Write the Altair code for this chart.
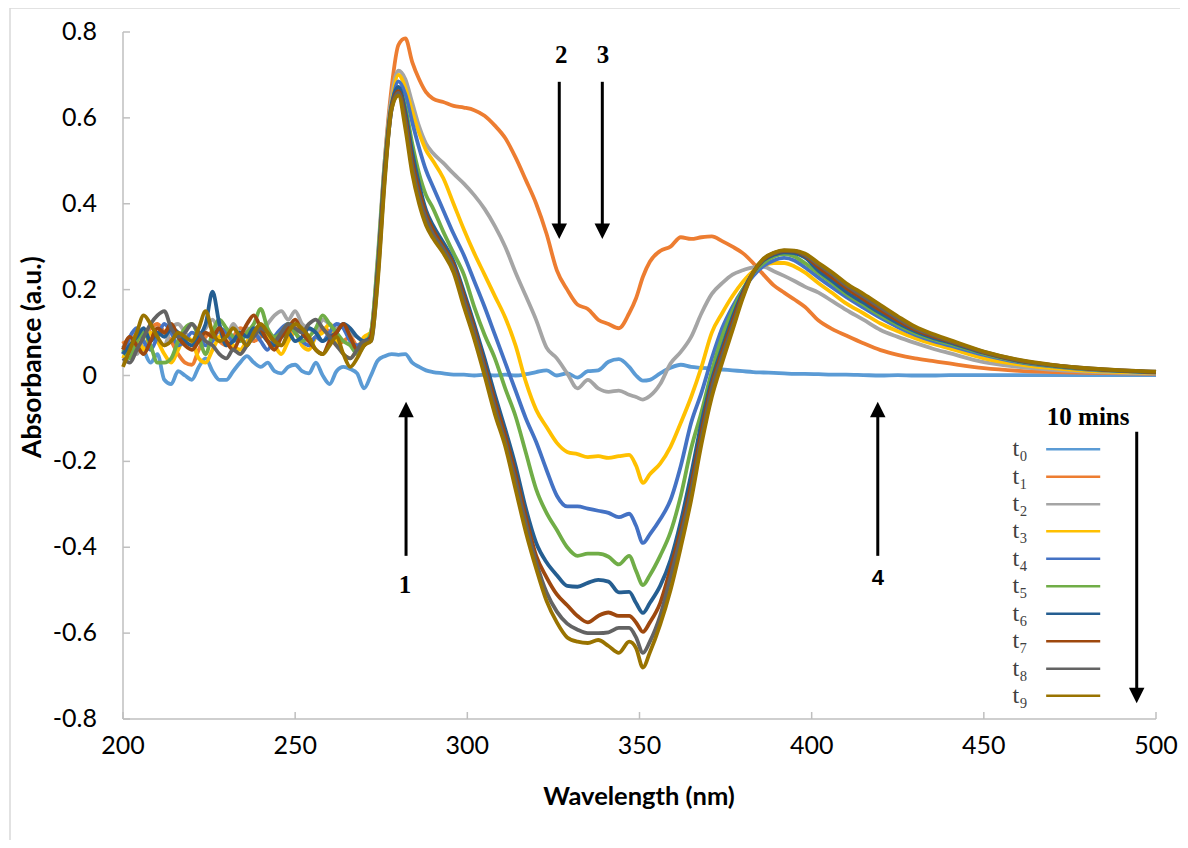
import altair as alt
import pandas as pd

# ---------------- data ----------------
WAVELENGTH = [
    200, 202, 204, 206, 208, 210, 212, 214, 216, 218, 220, 222, 224, 226, 228, 230, 232, 234,
    236, 238, 240, 242, 244, 246, 248, 250, 252, 254, 256, 258, 260, 262, 264, 266, 268, 270,
    272, 274, 276, 278, 280, 282, 284, 286, 288, 290,
    293, 296, 299, 302, 305, 308, 311, 314, 317, 320, 323, 326, 329, 332, 335, 338, 341, 344, 347,
    349, 351, 353,
    356, 359, 362, 365, 368, 371, 374, 377, 380, 383, 386, 389, 392, 395, 398,
    402, 406, 410, 415, 420, 425, 430, 435, 440, 450, 460, 470, 480, 490, 500,
]

T0 = [0.07, 0.05, 0.09, 0.06, 0.03, 0.05, -0.01, -0.02, 0.01, 0.0, -0.01, 0.02, 0.04, 0.01, -0.01, -0.01, 0.01, 0.03,
      0.045, 0.03, 0.02, 0.03, 0.01, 0.005, 0.02, 0.025, 0.01, 0.005, 0.03, 0.0, -0.02, 0.01, 0.02, 0.015, 0.005, -0.03,
      0.0, 0.035, 0.045, 0.05, 0.048, 0.05, 0.03, 0.02, 0.012, 0.008,
      0.005, 0.002, 0.002, 0.0, 0.002, 0.0, 0.002, 0.0, 0.003, 0.008, 0.012, 0.0, 0.005, -0.005, 0.01, 0.012, 0.032, 0.038, 0.02,
      0.0, -0.012, -0.01,
      0.005, 0.018, 0.025, 0.02, 0.018, 0.016, 0.014, 0.012, 0.01, 0.008, 0.007, 0.006, 0.005, 0.004, 0.004,
      0.003, 0.002, 0.002, 0.001, 0.0, 0.001, 0.0, 0.0, 0.001, 0.001, 0.001, 0.001, 0.001, 0.001, 0.001]

T1 = [0.08, 0.06, 0.10, 0.09, 0.11, 0.12, 0.10, 0.08, 0.05, 0.03, 0.025, 0.06, 0.09, 0.10, 0.08, 0.07, 0.09, 0.11,
      0.10, 0.08, 0.09, 0.10, 0.08, 0.07, 0.09, 0.11, 0.10, 0.08, 0.09, 0.11, 0.10, 0.07, 0.08, 0.09, 0.07, 0.08,
      0.10, 0.26, 0.50, 0.67, 0.77, 0.785, 0.73, 0.69, 0.66, 0.645,
      0.637, 0.628, 0.624, 0.618, 0.605, 0.582, 0.553, 0.508, 0.455, 0.40, 0.33, 0.245, 0.20, 0.165, 0.155, 0.13, 0.12, 0.11, 0.145,
      0.18, 0.23, 0.265,
      0.29, 0.30, 0.322, 0.318, 0.322, 0.324, 0.313, 0.30, 0.285, 0.262, 0.235, 0.21, 0.193, 0.177, 0.16,
      0.128, 0.108, 0.093, 0.075, 0.059, 0.048, 0.04, 0.034, 0.028, 0.017, 0.011, 0.008, 0.006, 0.005, 0.004]

T2 = [0.06, 0.08, 0.05, 0.09, 0.10, 0.08, 0.07, 0.11, 0.12, 0.10, 0.08, 0.09, 0.11, 0.13, 0.10, 0.09, 0.12, 0.10,
      0.11, 0.09, 0.10, 0.12, 0.14, 0.15, 0.13, 0.15, 0.12, 0.11, 0.10, 0.13, 0.12, 0.11, 0.12, 0.10, 0.09, 0.08,
      0.10, 0.28, 0.50, 0.65, 0.71, 0.69, 0.635, 0.58, 0.54, 0.518,
      0.495, 0.47, 0.447, 0.42, 0.388, 0.348, 0.30, 0.24, 0.185, 0.129, 0.065, 0.04, 0.005, -0.03, -0.01, -0.03, -0.038, -0.035, -0.045,
      -0.05, -0.056, -0.048,
      -0.02, 0.028, 0.055, 0.09, 0.145, 0.19, 0.215, 0.235, 0.245, 0.252, 0.253, 0.243, 0.232, 0.22, 0.207,
      0.193, 0.173, 0.153, 0.13, 0.106, 0.09, 0.076, 0.063, 0.052, 0.031, 0.02, 0.013, 0.009, 0.006, 0.005]

T3 = [0.04, 0.07, 0.09, 0.06, 0.10, 0.08, 0.05, 0.03, 0.06, 0.09, 0.08, 0.04, 0.03, 0.06, 0.09, 0.10, 0.07, 0.06,
      0.08, 0.09, 0.11, 0.09, 0.07, 0.05, 0.08, 0.10, 0.07, 0.06, 0.09, 0.10, 0.12, 0.08, 0.05, 0.04, 0.06, 0.09,
      0.10, 0.26, 0.48, 0.63, 0.70, 0.67, 0.615, 0.565, 0.525, 0.50,
      0.46, 0.40, 0.34, 0.285, 0.235, 0.185, 0.135, 0.07, -0.015, -0.08, -0.12, -0.157, -0.178, -0.183, -0.19, -0.188, -0.192, -0.188, -0.185,
      -0.21, -0.25, -0.23,
      -0.205, -0.166, -0.11, -0.05, 0.02, 0.10, 0.145, 0.185, 0.218, 0.243, 0.256, 0.262, 0.262, 0.254, 0.24,
      0.215, 0.192, 0.168, 0.145, 0.121, 0.103, 0.087, 0.074, 0.063, 0.04, 0.026, 0.017, 0.011, 0.008, 0.006]

T4 = [0.05, 0.09, 0.11, 0.08, 0.06, 0.09, 0.12, 0.10, 0.07, 0.08, 0.10, 0.09, 0.07, 0.08, 0.11, 0.10, 0.08, 0.09,
      0.07, 0.10, 0.08, 0.06, 0.09, 0.11, 0.12, 0.10, 0.08, 0.07, 0.09, 0.08, 0.10, 0.12, 0.11, 0.08, 0.07, 0.08,
      0.09, 0.25, 0.47, 0.62, 0.685, 0.655, 0.59, 0.53, 0.478, 0.44,
      0.385, 0.33, 0.28, 0.22, 0.16, 0.095, 0.03, -0.035, -0.10, -0.155, -0.22, -0.28, -0.305, -0.305, -0.31, -0.315, -0.32, -0.33, -0.322,
      -0.35, -0.39, -0.37,
      -0.335, -0.29, -0.21, -0.11, -0.04, 0.04, 0.11, 0.16, 0.2, 0.232, 0.255, 0.268, 0.274, 0.268, 0.252,
      0.228, 0.205, 0.183, 0.158, 0.134, 0.113, 0.095, 0.081, 0.07, 0.048, 0.031, 0.021, 0.014, 0.01, 0.007]

T5 = [0.06, 0.04, 0.08, 0.10, 0.07, 0.03, 0.03, 0.04, 0.08, 0.11, 0.12, 0.09, 0.05, 0.10, 0.13, 0.11, 0.09, 0.08,
      0.10, 0.12, 0.155, 0.11, 0.09, 0.10, 0.12, 0.10, 0.08, 0.09, 0.11, 0.14, 0.12, 0.10, 0.08, 0.07, 0.05, 0.07,
      0.10, 0.27, 0.49, 0.63, 0.665, 0.625, 0.54, 0.47, 0.42, 0.39,
      0.335, 0.285, 0.235, 0.16, 0.095, 0.04, -0.03, -0.095, -0.18, -0.265, -0.32, -0.36, -0.40, -0.42, -0.415, -0.415, -0.422, -0.44, -0.42,
      -0.455, -0.488, -0.465,
      -0.42, -0.365, -0.28, -0.17, -0.085, 0.01, 0.09, 0.15, 0.2, 0.238, 0.262, 0.277, 0.283, 0.277, 0.262,
      0.238, 0.215, 0.19, 0.165, 0.14, 0.118, 0.099, 0.085, 0.074, 0.051, 0.033, 0.022, 0.015, 0.011, 0.008]

T6 = [0.05, 0.07, 0.09, 0.11, 0.08, 0.10, 0.09, 0.11, 0.10, 0.08, 0.07, 0.09, 0.12, 0.195, 0.12, 0.07, 0.08, 0.10,
      0.09, 0.11, 0.10, 0.08, 0.07, 0.09, 0.10, 0.08, 0.09, 0.11, 0.10, 0.08, 0.09, 0.10, 0.12, 0.11, 0.09, 0.08,
      0.09, 0.25, 0.48, 0.63, 0.672, 0.615, 0.52, 0.445, 0.385, 0.35,
      0.31, 0.265, 0.195, 0.12, 0.04, -0.045, -0.125, -0.21, -0.31, -0.39, -0.435, -0.465, -0.49, -0.492, -0.483, -0.476, -0.48, -0.505, -0.504,
      -0.53, -0.553, -0.53,
      -0.49, -0.43, -0.34, -0.23, -0.11, -0.01, 0.065, 0.135, 0.195, 0.24, 0.268, 0.281, 0.287, 0.285, 0.275,
      0.244, 0.22, 0.195, 0.17, 0.145, 0.122, 0.103, 0.088, 0.077, 0.053, 0.034, 0.023, 0.016, 0.011, 0.008]

T7 = [0.06, 0.09, 0.07, 0.05, 0.08, 0.11, 0.10, 0.12, 0.09, 0.07, 0.06, 0.08, 0.10, 0.09, 0.11, 0.08, 0.06, 0.09,
      0.12, 0.14, 0.11, 0.08, 0.06, 0.09, 0.11, 0.13, 0.10, 0.08, 0.06, 0.05, 0.08, 0.10, 0.12, 0.09, 0.06, 0.07,
      0.09, 0.24, 0.47, 0.625, 0.662, 0.60, 0.50, 0.43, 0.375, 0.34,
      0.30, 0.258, 0.185, 0.11, 0.025, -0.06, -0.14, -0.23, -0.33, -0.42, -0.47, -0.51, -0.535, -0.56, -0.575, -0.56, -0.552, -0.56, -0.56,
      -0.575, -0.597, -0.575,
      -0.53, -0.45, -0.36, -0.255, -0.13, -0.02, 0.055, 0.125, 0.19, 0.24, 0.27, 0.284, 0.29, 0.289, 0.279,
      0.252, 0.228, 0.204, 0.178, 0.152, 0.128, 0.107, 0.092, 0.08, 0.054, 0.035, 0.024, 0.016, 0.012, 0.008]

T8 = [0.04, 0.03, 0.06, 0.09, 0.12, 0.14, 0.15, 0.11, 0.09, 0.10, 0.12, 0.10, 0.08, 0.07, 0.05, 0.04, 0.06, 0.05,
      0.07, 0.09, 0.11, 0.10, 0.08, 0.10, 0.12, 0.11, 0.10, 0.12, 0.13, 0.11, 0.09, 0.07, 0.05, 0.04, 0.06, 0.08,
      0.08, 0.23, 0.46, 0.62, 0.658, 0.59, 0.485, 0.415, 0.365, 0.33,
      0.295, 0.25, 0.175, 0.10, 0.015, -0.075, -0.155, -0.245, -0.345, -0.435, -0.505, -0.55, -0.578, -0.592, -0.6, -0.6, -0.598, -0.588, -0.588,
      -0.61, -0.646, -0.62,
      -0.56, -0.47, -0.375, -0.27, -0.145, -0.03, 0.045, 0.115, 0.185, 0.24, 0.271, 0.285, 0.291, 0.29, 0.281,
      0.258, 0.235, 0.21, 0.184, 0.158, 0.133, 0.11, 0.095, 0.081, 0.055, 0.036, 0.024, 0.017, 0.012, 0.009]

T9 = [0.02, 0.06, 0.10, 0.14, 0.12, 0.09, 0.07, 0.08, 0.10, 0.09, 0.08, 0.11, 0.15, 0.10, 0.08, 0.09, 0.11, 0.09,
      0.07, 0.10, 0.12, 0.10, 0.08, 0.07, 0.10, 0.12, 0.11, 0.09, 0.06, 0.05, 0.07, 0.09, 0.05, 0.02, 0.04, 0.07,
      0.08, 0.22, 0.45, 0.62, 0.652, 0.575, 0.47, 0.40, 0.35, 0.32,
      0.285, 0.24, 0.16, 0.085, 0.0, -0.09, -0.165, -0.265, -0.365, -0.45, -0.525, -0.575, -0.61, -0.62, -0.623, -0.616, -0.63, -0.646, -0.62,
      -0.635, -0.68, -0.645,
      -0.58, -0.50, -0.40, -0.29, -0.16, -0.05, 0.03, 0.105, 0.18, 0.24, 0.272, 0.286, 0.292, 0.291, 0.284,
      0.262, 0.24, 0.215, 0.19, 0.164, 0.138, 0.114, 0.097, 0.083, 0.056, 0.037, 0.025, 0.017, 0.012, 0.009]

SERIES_NAMES = ["t₀", "t₁", "t₂", "t₃", "t₄", "t₅", "t₆", "t₇", "t₈", "t₉"]
SERIES_VALUES = [T0, T1, T2, T3, T4, T5, T6, T7, T8, T9]
COLORS = ["#5B9BD5", "#ED7D31", "#A5A5A5", "#FFC000", "#4472C4",
          "#70AD47", "#255E91", "#9E480E", "#636363", "#997300"]

X_TICKS = [200, 250, 300, 350, 400, 450, 500]
X_TICK_LABELS = ["200", "250", "300", "350", "400", "450", "500"]
Y_TICKS = [-0.8, -0.6, -0.4, -0.2, 0.0, 0.2, 0.4, 0.6, 0.8]
Y_TICK_LABELS = ["-0.8", "-0.6", "-0.4", "-0.2", "0", "0.2", "0.4", "0.6", "0.8"]
X_TITLE = "Wavelength (nm)"
Y_TITLE = "Absorbance (a.u.)"

# legend block placed inside the plot (positions in chart units)
LEGEND_Y = [-0.172, -0.236, -0.300, -0.363, -0.427, -0.491, -0.555, -0.619, -0.683, -0.746]
LEGEND_LINE_X1 = 468.1
LEGEND_LINE_X2 = 483.8
LEGEND_TEXT_X = 460.5

# annotation arrows: x (nm), shaft start/end and head position (absorbance)
ARROW_X = [282.2, 419.2, 326.7, 339.2, 494.4]
ARROW_Y1 = [-0.420, -0.420, 0.684, 0.684, -0.131]
ARROW_Y2 = [-0.085, -0.085, 0.345, 0.345, -0.735]
HEAD_UP_X = [282.2, 419.2]
HEAD_UP_Y = [-0.079, -0.079]
HEAD_DOWN_X = [326.7, 339.2, 494.4]
HEAD_DOWN_Y = [0.336, 0.336, -0.745]
SERIF_LABELS = ["1", "2", "3", "10 mins"]
SERIF_X = [281.9, 327.3, 339.4, 480.3]
SERIF_Y = [-0.488, 0.746, 0.746, -0.097]
SANS_LABELS = ["4"]
SANS_X = [419.2]
SANS_Y = [-0.472]

# ---------------- tables ----------------
rows = []
for order, (name, vals) in enumerate(zip(SERIES_NAMES, SERIES_VALUES)):
    assert len(vals) == len(WAVELENGTH), (name, len(vals))
    for w, a in zip(WAVELENGTH, vals):
        rows.append({"series": name, "order": order, "wl": w, "A": a})
df = pd.DataFrame(rows)
legend_df = pd.DataFrame({"series": SERIES_NAMES, "y": LEGEND_Y,
                          "x1": [LEGEND_LINE_X1] * 10, "x2": [LEGEND_LINE_X2] * 10,
                          "xt": [LEGEND_TEXT_X] * 10})

shafts = pd.DataFrame({"x": ARROW_X, "y1": ARROW_Y1, "y2": ARROW_Y2})
heads_up = pd.DataFrame({"x": HEAD_UP_X, "y": HEAD_UP_Y})
heads_down = pd.DataFrame({"x": HEAD_DOWN_X, "y": HEAD_DOWN_Y})
serif_lab = pd.DataFrame({"t": SERIF_LABELS, "x": SERIF_X, "y": SERIF_Y})
sans_lab = pd.DataFrame({"t": SANS_LABELS, "x": SANS_X, "y": SANS_Y})
xt = pd.DataFrame({"v": X_TICKS, "label": X_TICK_LABELS})
yt = pd.DataFrame({"v": Y_TICKS, "label": Y_TICK_LABELS})
xtitle_df = pd.DataFrame({"t": [X_TITLE]})
ytitle_df = pd.DataFrame({"t": [Y_TITLE]})

W, H = 1033, 687
AXIS_GRAY = "#BFBFBF"
SANS = "Lato"
xscale = alt.Scale(domain=[200, 500], nice=False, zero=False)
yscale = alt.Scale(domain=[-0.8, 0.8], nice=False, zero=False)
cscale = alt.Scale(domain=SERIES_NAMES, range=COLORS)

lines = alt.Chart(df).mark_line(strokeWidth=3.8, interpolate="monotone").encode(
    x=alt.X("wl:Q", scale=xscale, axis=None),
    y=alt.Y("A:Q", scale=yscale, axis=None),
    color=alt.Color("series:N", scale=cscale, legend=None),
    order=alt.Order("wl:Q"),
)

# axis lines, inward ticks and tick labels
x_domain = alt.Chart(xtitle_df).mark_rule(color=AXIS_GRAY, strokeWidth=1.5).encode(
    x=alt.value(0), x2=alt.value(W), y=alt.value(H))
y_domain = alt.Chart(xtitle_df).mark_rule(color=AXIS_GRAY, strokeWidth=1.5).encode(
    x=alt.value(0), y=alt.value(0), y2=alt.value(H))
xticks = alt.Chart(xt).mark_rule(color=AXIS_GRAY, strokeWidth=1.5).encode(
    x=alt.X("v:Q", scale=xscale, axis=None), y=alt.value(H), y2=alt.value(H - 7))
yticks = alt.Chart(yt).mark_rule(color=AXIS_GRAY, strokeWidth=1.5).encode(
    y=alt.Y("v:Q", scale=yscale, axis=None), x=alt.value(0), x2=alt.value(7))
xlabels = alt.Chart(xt).mark_text(font=SANS, fontSize=25, color="#000000",
                                  align="center", baseline="middle").encode(
    x=alt.X("v:Q", scale=xscale, axis=None), y=alt.value(H + 27), text="label:N")
ylabels = alt.Chart(yt).mark_text(font=SANS, fontSize=25, color="#000000",
                                  align="right", baseline="middle").encode(
    y=alt.Y("v:Q", scale=yscale, axis=None), x=alt.value(-26), text="label:N")
xtitle = alt.Chart(xtitle_df).mark_text(font=SANS, fontSize=25.5, fontWeight="bold", color="#000000",
                                        align="center", baseline="middle").encode(
    x=alt.value(516), y=alt.value(765), text="t:N")
ytitle = alt.Chart(ytitle_df).mark_text(font=SANS, fontSize=26.5, fontWeight="bold", color="#000000",
                                        align="center", baseline="middle", angle=270).encode(
    x=alt.value(-90), y=alt.value(325), text="t:N")

shaft_layer = alt.Chart(shafts).mark_rule(color="#000000", strokeWidth=3).encode(
    x=alt.X("x:Q", scale=xscale, axis=None),
    y=alt.Y("y1:Q", scale=yscale, axis=None), y2="y2:Q")
head_up_layer = alt.Chart(heads_up).mark_point(
    shape="M0,-1L1,1L-1,1Z", filled=True, color="#000000", opacity=1, size=240).encode(
    x=alt.X("x:Q", scale=xscale, axis=None), y=alt.Y("y:Q", scale=yscale, axis=None))
head_down_layer = alt.Chart(heads_down).mark_point(
    shape="M-1,-1L1,-1L0,1Z", filled=True, color="#000000", opacity=1, size=240).encode(
    x=alt.X("x:Q", scale=xscale, axis=None), y=alt.Y("y:Q", scale=yscale, axis=None))
serif_layer = alt.Chart(serif_lab).mark_text(
    font="Liberation Serif", fontSize=25, fontWeight="bold", color="#000000",
    align="center", baseline="middle").encode(
    x=alt.X("x:Q", scale=xscale, axis=None), y=alt.Y("y:Q", scale=yscale, axis=None), text="t:N")
sans_layer = alt.Chart(sans_lab).mark_text(
    font="Liberation Sans", fontSize=22, fontWeight="bold", color="#000000",
    align="center", baseline="middle").encode(
    x=alt.X("x:Q", scale=xscale, axis=None), y=alt.Y("y:Q", scale=yscale, axis=None), text="t:N")

leg_lines = alt.Chart(legend_df).mark_rule(strokeWidth=2.5).encode(
    x=alt.X("x1:Q", scale=xscale, axis=None), x2="x2:Q",
    y=alt.Y("y:Q", scale=yscale, axis=None),
    color=alt.Color("series:N", scale=cscale, legend=None))
leg_text = alt.Chart(legend_df).mark_text(
    font="Liberation Serif", fontSize=24, color="#404040", align="center", baseline="middle").encode(
    x=alt.X("xt:Q", scale=xscale, axis=None),
    y=alt.Y("y:Q", scale=yscale, axis=None), text="series:N")

# frame round the whole figure (left and top edges visible)
frame_left = alt.Chart(xtitle_df).mark_rule(color="#D9D9D9", strokeWidth=1.5).encode(
    x=alt.value(-113), y=alt.value(-24), y2=alt.value(H + 200))
frame_top = alt.Chart(xtitle_df).mark_rule(color="#D9D9D9", strokeWidth=1.5).encode(
    x=alt.value(-113), x2=alt.value(W + 200), y=alt.value(-24))

chart = alt.layer(frame_left, frame_top, x_domain, y_domain, xticks, yticks,
                  xlabels, ylabels, xtitle, ytitle, lines, shaft_layer,
                  head_up_layer, head_down_layer, serif_layer, sans_layer,
                  leg_lines, leg_text).properties(
    width=W, height=H,
    autosize=alt.AutoSizeParams(type="none"),
    padding={"left": 115, "top": 24, "right": 24, "bottom": 121},
).configure_view(stroke=None)

chart.save("out.html", embed_options={"renderer": "svg", "actions": False})
